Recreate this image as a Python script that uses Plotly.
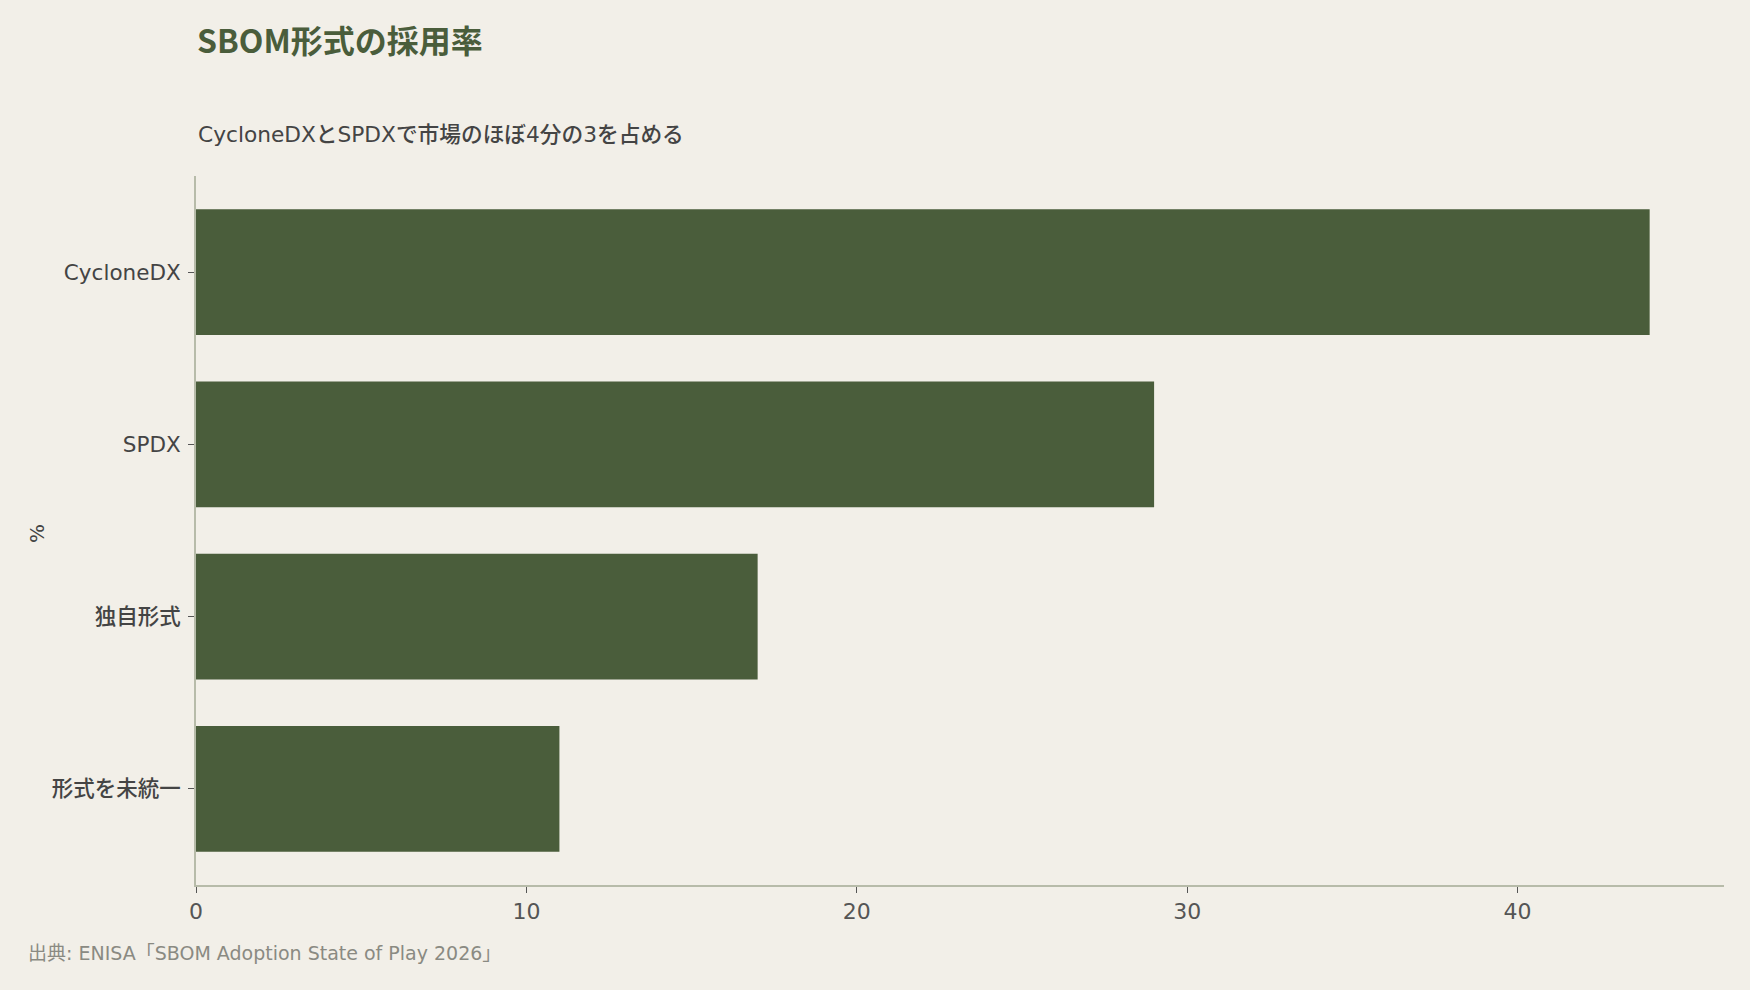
import plotly.graph_objects as go

categories = ["CycloneDX", "SPDX", "独自形式", "形式を未統一"]
values = [44, 29, 17, 11]
x_ticks = [0, 10, 20, 30, 40]

FONT = "DejaVu Sans, Noto Sans CJK JP, sans-serif"
TFONT = "Noto Sans CJK JP"
BG = "#f2efe8"
BAR = "#4a5d3b"

L, R, T, B = 196, 26, 176, 105
PW = 1750 - L - R
PH = 990 - T - B

fig = go.Figure(go.Bar(
    x=values, y=categories, orientation="h",
    marker=dict(color=BAR, line=dict(width=0)),
    hoverinfo="x+y",
))

fig.update_layout(
    width=1750, height=990,
    paper_bgcolor=BG, plot_bgcolor=BG,
    margin=dict(l=L, r=R, t=T, b=B, autoexpand=False),
    bargap=0.27,
    font=dict(family=FONT, color="#444444"),
    title=dict(
        text="<b>SBOM形式の採用率</b>",
        font=dict(family=TFONT, size=32, color=BAR),
        xref="container", x=197/1750, xanchor="left",
        yref="container", y=1-42/990, yanchor="middle",
    ),
    showlegend=False,
)

fig.update_xaxes(
    range=[0, 46.25],
    tickvals=x_ticks,
    automargin=False,
    showgrid=False, zeroline=False,
    showline=True, linecolor="#b7bba9", linewidth=2,
    ticks="outside", ticklen=6, tickcolor="#555555", tickwidth=1,
    tickfont=dict(family=FONT, size=22, color="#555555"),
)
fig.update_yaxes(
    categoryorder="array", categoryarray=categories[::-1],
    range=[-0.558, 3.558],
    automargin=False,
    showgrid=False, zeroline=False,
    showline=True, linecolor="#b7bba9", linewidth=2,
    ticks="outside", ticklen=6, tickcolor="#555555", tickwidth=1,
    ticklabelstandoff=3,
    tickfont=dict(family=FONT, size=21.5, color="#444444", weight=500),
)

fig.add_annotation(
    text="%", textangle=-90,
    xref="paper", yref="paper", x=(37-L)/PW, y=(T+PH-534)/PH,
    xanchor="center", yanchor="middle", showarrow=False,
    font=dict(family=FONT, size=20, color="#444444"),
)
fig.add_annotation(
    text="CycloneDXとSPDXで市場のほぼ4分の3を占める",
    xref="paper", yref="paper", x=(196-L)/PW, y=(T+PH-134.5)/PH,
    xanchor="left", yanchor="middle", showarrow=False,
    font=dict(family=FONT, size=21.7, color="#444444", weight=500),
)
fig.add_annotation(
    text="出典: ENISA「SBOM Adoption State of Play 2026」",
    xref="paper", yref="paper", x=(26-L)/PW, y=(T+PH-953)/PH,
    xanchor="left", yanchor="middle", showarrow=False,
    font=dict(family=FONT, size=19, color="#8a8a82"),
)

fig.write_html("out.html")
